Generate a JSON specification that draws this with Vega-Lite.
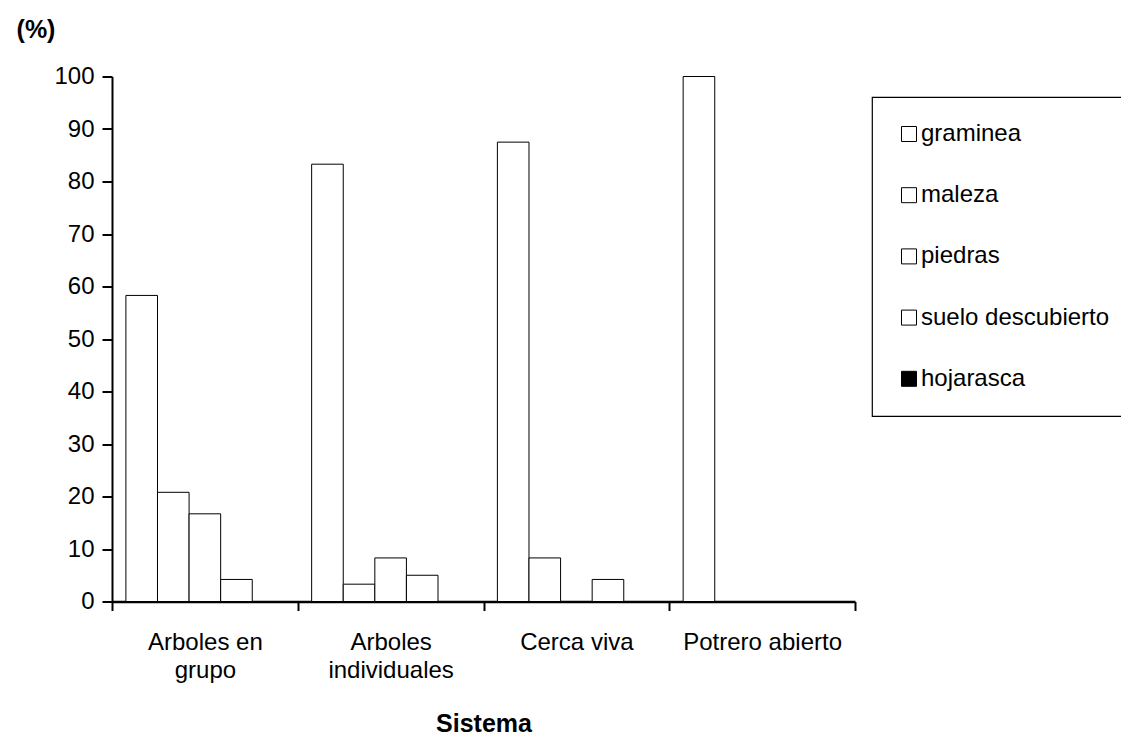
{
  "$schema": "https://vega.github.io/schema/vega-lite/v6.json",
  "width": 743,
  "height": 525,
  "autosize": {"type": "none"},
  "padding": {"left": 112, "top": 76.5, "right": 266, "bottom": 135.5},
  "background": "white",
  "config": {"font": "Liberation Sans", "view": {"stroke": null}},
  "data": {
    "values": [
      {"sistema": "Arboles en grupo", "cobertura": "graminea", "porcentaje": 58.3},
      {"sistema": "Arboles en grupo", "cobertura": "maleza", "porcentaje": 20.8},
      {"sistema": "Arboles en grupo", "cobertura": "piedras", "porcentaje": 16.7},
      {"sistema": "Arboles en grupo", "cobertura": "suelo descubierto", "porcentaje": 4.2},
      {"sistema": "Arboles en grupo", "cobertura": "hojarasca", "porcentaje": 0},
      {"sistema": "Arboles individuales", "cobertura": "graminea", "porcentaje": 83.3},
      {"sistema": "Arboles individuales", "cobertura": "maleza", "porcentaje": 3.3},
      {"sistema": "Arboles individuales", "cobertura": "piedras", "porcentaje": 8.3},
      {"sistema": "Arboles individuales", "cobertura": "suelo descubierto", "porcentaje": 5.0},
      {"sistema": "Arboles individuales", "cobertura": "hojarasca", "porcentaje": 0},
      {"sistema": "Cerca viva", "cobertura": "graminea", "porcentaje": 87.5},
      {"sistema": "Cerca viva", "cobertura": "maleza", "porcentaje": 8.3},
      {"sistema": "Cerca viva", "cobertura": "piedras", "porcentaje": 0},
      {"sistema": "Cerca viva", "cobertura": "suelo descubierto", "porcentaje": 4.2},
      {"sistema": "Cerca viva", "cobertura": "hojarasca", "porcentaje": 0},
      {"sistema": "Potrero abierto", "cobertura": "graminea", "porcentaje": 100},
      {"sistema": "Potrero abierto", "cobertura": "maleza", "porcentaje": 0},
      {"sistema": "Potrero abierto", "cobertura": "piedras", "porcentaje": 0},
      {"sistema": "Potrero abierto", "cobertura": "suelo descubierto", "porcentaje": 0},
      {"sistema": "Potrero abierto", "cobertura": "hojarasca", "porcentaje": 0}
    ]
  },
  "mark": {"type": "bar", "stroke": "black", "strokeWidth": 1},
  "encoding": {
    "x": {
      "field": "sistema",
      "type": "nominal",
      "sort": ["Arboles en grupo", "Arboles individuales", "Cerca viva", "Potrero abierto"],
      "scale": {"paddingInner": 0, "paddingOuter": 0},
      "axis": {
        "title": "Sistema",
        "titleFontSize": 25,
        "titleFontWeight": "bold",
        "titleColor": "black",
        "titleY": 121.5,
        "titleBaseline": "middle",
        "labelAngle": 0,
        "labelFontSize": 24,
        "labelColor": "black",
        "labelPadding": 20,
        "labelLineHeight": 27.5,
        "labelBaseline": "top",
        "labelExpr": "datum.value == 'Arboles en grupo' ? ['Arboles en', 'grupo'] : datum.value == 'Arboles individuales' ? ['Arboles', 'individuales'] : datum.value",
        "tickBand": "extent",
        "tickSize": 9,
        "tickWidth": 2,
        "tickColor": "black",
        "domainColor": "black",
        "domainWidth": 2.5
      }
    },
    "xOffset": {
      "field": "cobertura",
      "type": "nominal",
      "sort": ["graminea", "maleza", "piedras", "suelo descubierto", "hojarasca"],
      "scale": {"paddingInner": 0, "paddingOuter": 0.44}
    },
    "y": {
      "field": "porcentaje",
      "type": "quantitative",
      "scale": {"domain": [0, 100], "nice": false},
      "axis": {
        "title": "(%)",
        "titleAngle": 0,
        "titleX": -76.5,
        "titleY": -47.5,
        "titleAlign": "center",
        "titleBaseline": "middle",
        "titleFontSize": 25,
        "titleFontWeight": "bold",
        "titleColor": "black",
        "values": [0, 10, 20, 30, 40, 50, 60, 70, 80, 90, 100],
        "grid": false,
        "tickSize": 10,
        "tickWidth": 2,
        "tickColor": "black",
        "domainColor": "black",
        "domainWidth": 2,
        "labelPadding": 8,
        "labelFontSize": 24,
        "labelColor": "black"
      }
    },
    "color": {
      "field": "cobertura",
      "type": "nominal",
      "scale": {
        "domain": ["graminea", "maleza", "piedras", "suelo descubierto", "hojarasca"],
        "range": ["white", "white", "white", "white", "black"]
      },
      "legend": {
        "orient": "none",
        "legendX": 760,
        "legendY": 20.5,
        "title": null,
        "padding": 25,
        "rowPadding": 37.2,
        "symbolType": "square",
        "symbolSize": 225,
        "symbolStrokeColor": "black",
        "symbolStrokeWidth": 1,
        "labelFontSize": 24,
        "labelColor": "black",
        "labelOffset": 0,
        "labelLimit": 400,
        "strokeColor": "black",
        "fillColor": "white",
        "encode": {"legend": {"update": {"strokeWidth": {"value": 1.2}}}}
      }
    }
  }
}
